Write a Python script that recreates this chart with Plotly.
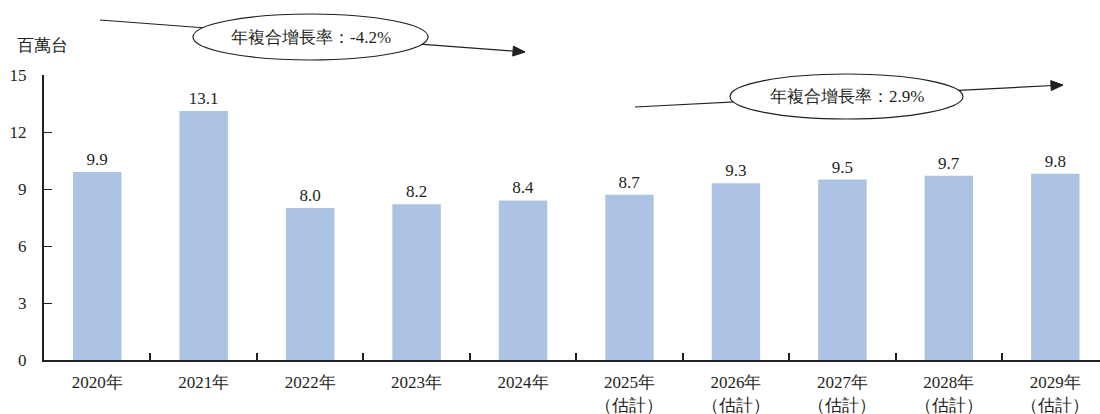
import plotly.graph_objects as go

# Annual volume (million units), actual and forecast
categories = ["2020年", "2021年", "2022年", "2023年", "2024年",
              "2025年<br>（估計）", "2026年<br>（估計）", "2027年<br>（估計）",
              "2028年<br>（估計）", "2029年<br>（估計）"]
values = [9.9, 13.1, 8.0, 8.2, 8.4, 8.7, 9.3, 9.5, 9.7, 9.8]
y_ticks = [0, 3, 6, 9, 12, 15]
cagr_labels = ["年複合增長率：-4.2%", "年複合增長率：2.9%"]

W, H = 1100, 414
ML, MR, MT, MB = 44, 0, 75, 54
FONT = "Liberation Serif"
INK = "#231f20"
BAR = "#adc3e3"


def px2paper(px, py):
    return (px - ML) / (W - ML - MR), (H - MB - py) / (H - MT - MB)


fig = go.Figure(go.Bar(
    x=categories, y=values, width=0.455,
    marker=dict(color=BAR, line=dict(width=0)),
    text=[f"{v:.1f}" for v in values], textposition="outside",
    textfont=dict(family=FONT, size=17),
    cliponaxis=False,
))

shapes = []
annotations = []


def trend(p0, p1, ell_box, label):
    x0, y0 = px2paper(*p0)
    x1, y1 = px2paper(*p1)
    shapes.append(dict(type="line", xref="paper", yref="paper",
                       x0=x0, y0=y0, x1=x1, y1=y1,
                       line=dict(color=INK, width=1.2)))
    # arrowhead triangle at the end point
    dx, dy = p1[0] - p0[0], p1[1] - p0[1]
    n = (dx * dx + dy * dy) ** 0.5
    ux, uy = dx / n, dy / n
    L, Wd = 12, 5
    bx, by = p1[0] - ux * L, p1[1] - uy * L
    pts = [p1, (bx - uy * Wd, by + ux * Wd), (bx + uy * Wd, by - ux * Wd)]
    pp = [px2paper(*p) for p in pts]
    path = "M {} {} L {} {} L {} {} Z".format(*[c for p in pp for c in p])
    shapes.append(dict(type="path", xref="paper", yref="paper", path=path,
                       fillcolor=INK, line=dict(color=INK, width=1)))
    ex0, ey0 = px2paper(ell_box[0], ell_box[3])
    ex1, ey1 = px2paper(ell_box[2], ell_box[1])
    shapes.append(dict(type="circle", xref="paper", yref="paper",
                       x0=ex0, y0=ey0, x1=ex1, y1=ey1,
                       fillcolor="white", line=dict(color=INK, width=1.2)))
    cx, cy = px2paper((ell_box[0] + ell_box[2]) / 2, (ell_box[1] + ell_box[3]) / 2)
    annotations.append(dict(xref="paper", yref="paper", x=cx, y=cy, text=label,
                            showarrow=False, xanchor="center", yanchor="middle",
                            font=dict(family=FONT, size=17)))


trend((100, 20), (525, 52), (193, 14, 428, 60), cagr_labels[0])
trend((635, 107), (1063, 85), (730, 74, 963, 119), cagr_labels[1])

ux_, uy_ = px2paper(42, 46)
annotations.append(dict(xref="paper", yref="paper", x=ux_, y=uy_, text="百萬台",
                        showarrow=False, xanchor="center", yanchor="middle",
                        font=dict(family=FONT, size=17)))

fig.update_layout(
    width=W, height=H,
    margin=dict(l=ML, r=MR, t=MT, b=MB),
    paper_bgcolor="white", plot_bgcolor="white",
    showlegend=False,
    font=dict(family=FONT, size=17, color=INK),
    shapes=shapes, annotations=annotations,
    xaxis=dict(type="category", range=[-0.5, 9.42], showgrid=False,
               showline=True, linecolor=INK, linewidth=2,
               ticks="inside", tickson="boundaries", ticklen=7,
               tickcolor=INK, tickwidth=2, ticklabelstandoff=6,
               tickfont=dict(family=FONT, size=17), zeroline=False),
    yaxis=dict(range=[0, 15], tickvals=y_ticks, showgrid=False,
               showline=True, linecolor=INK, linewidth=2,
               ticks="inside", ticklen=8, tickcolor=INK, tickwidth=1.2,
               ticklabelstandoff=12, zeroline=False,
               tickfont=dict(family=FONT, size=17)),
)

fig.write_html("out.html")
